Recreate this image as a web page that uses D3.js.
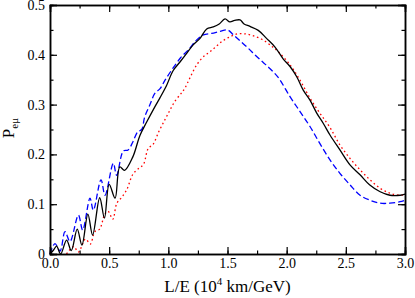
<!DOCTYPE html>
<html>
<head>
<meta charset="utf-8">
<script src="https://cdn.jsdelivr.net/npm/d3@7"></script>
<style>
  body { margin: 0; background: #fff; }
  text { font-family: "Liberation Serif", "DejaVu Serif", serif; }
</style>
</head>
<body>
<svg class="chart" width="415" height="298"></svg>
<script>
// set the dimensions and margins of the graph
var width = 415,
    height = 298,
    margin = {top: 5, right: 10, bottom: 44, left: 50}

// tick values
const xTicks = [0, 0.5, 1.0, 1.5, 2.0, 2.5, 3.0]
const yTicks = [0, 0.1, 0.2, 0.3, 0.4, 0.5]

// black solid curve
const blackX = [0.0, 0.03, 0.056, 0.09, 0.14, 0.18, 0.23, 0.27, 0.32, 0.36, 0.42, 0.46, 0.50, 0.55, 0.59, 0.63, 0.70, 0.76, 0.817, 0.887, 0.93, 0.986, 1.04, 1.10, 1.155, 1.21, 1.268, 1.324, 1.38, 1.43, 1.479, 1.52, 1.56, 1.606, 1.64, 1.69, 1.76, 1.83, 1.90, 1.97, 2.03, 2.085, 2.14, 2.197, 2.254, 2.31, 2.366, 2.45, 2.535, 2.62, 2.70, 2.79, 2.873, 2.96, 3.0]
const blackY = [0.0, 0.008, 0.016, 0.0, 0.028, 0.007, 0.05, 0.018, 0.08, 0.038, 0.113, 0.072, 0.14, 0.112, 0.175, 0.168, 0.195, 0.238, 0.265, 0.296, 0.314, 0.339, 0.368, 0.386, 0.403, 0.42, 0.433, 0.452, 0.456, 0.462, 0.472, 0.466, 0.469, 0.47, 0.462, 0.457, 0.449, 0.433, 0.416, 0.392, 0.376, 0.356, 0.329, 0.309, 0.283, 0.262, 0.239, 0.209, 0.179, 0.159, 0.139, 0.125, 0.118, 0.118, 0.12]

// blue dashed curve
const blueX = [0.0, 0.042, 0.085, 0.127, 0.169, 0.24, 0.276, 0.338, 0.366, 0.431, 0.465, 0.535, 0.563, 0.62, 0.66, 0.70, 0.74, 0.775, 0.80, 0.845, 0.887, 0.93, 0.972, 1.03, 1.10, 1.169, 1.24, 1.296, 1.366, 1.437, 1.50, 1.55, 1.606, 1.676, 1.74, 1.80, 1.86, 1.93, 2.028, 2.113, 2.197, 2.28, 2.366, 2.45, 2.535, 2.62, 2.704, 2.789, 2.873, 2.958, 3.0]
const blueY = [0.0, 0.021, 0.006, 0.045, 0.025, 0.078, 0.048, 0.112, 0.088, 0.149, 0.118, 0.182, 0.158, 0.207, 0.209, 0.225, 0.245, 0.25, 0.275, 0.30, 0.323, 0.332, 0.349, 0.37, 0.393, 0.41, 0.43, 0.44, 0.443, 0.447, 0.45, 0.44, 0.428, 0.413, 0.398, 0.385, 0.372, 0.354, 0.316, 0.286, 0.256, 0.222, 0.189, 0.162, 0.139, 0.118, 0.108, 0.102, 0.102, 0.105, 0.108]

// red dotted curve
const redX = [0.14, 0.2, 0.24, 0.3, 0.34, 0.38, 0.42, 0.46, 0.49, 0.53, 0.565, 0.61, 0.65, 0.70, 0.75, 0.79, 0.83, 0.87, 0.92, 0.972, 1.014, 1.056, 1.11, 1.14, 1.183, 1.24, 1.30, 1.352, 1.41, 1.46, 1.52, 1.58, 1.65, 1.72, 1.80, 1.88, 1.93, 2.028, 2.113, 2.197, 2.28, 2.366, 2.45, 2.535, 2.62, 2.704, 2.789, 2.873, 2.958, 3.0]
const redY = [0.0, 0.015, 0.004, 0.03, 0.02, 0.045, 0.05, 0.078, 0.086, 0.07, 0.102, 0.115, 0.13, 0.16, 0.172, 0.18, 0.212, 0.22, 0.246, 0.27, 0.289, 0.307, 0.323, 0.333, 0.354, 0.38, 0.397, 0.406, 0.418, 0.428, 0.436, 0.442, 0.442, 0.438, 0.43, 0.416, 0.406, 0.38, 0.349, 0.313, 0.283, 0.254, 0.219, 0.192, 0.169, 0.149, 0.132, 0.122, 0.118, 0.12]

const svg = d3.select(".chart")

const x = d3.scaleLinear().domain([0, 3]).range([margin.left, width - margin.right])
const y = d3.scaleLinear().domain([0, 0.5]).range([height - margin.bottom, margin.top])

const line = d3.line()
  .x(d => x(d[0]))
  .y(d => Math.min(y(0), y(d[1])))
  .curve(d3.curveCatmullRom.alpha(0.5))

function drawCurve(xs, ys, color, dash){
  svg.append("path")
    .datum(d3.zip(xs, ys))
    .attr("d", line)
    .attr("fill", "none")
    .attr("stroke", color)
    .attr("stroke-width", 1.3)
    .attr("stroke-dasharray", dash)
}

drawCurve(redX, redY, "#ff0000", "1.6,2.8")
drawCurve(blueX, blueY, "#0000ff", "6,3")
drawCurve(blackX, blackY, "#000000", null)

// axes, ticks point inward on all four sides
var xMinor = d3.range(0, 3.01, 0.25)
var yMinor = d3.range(0, 0.501, 0.05)

svg.append("g")
  .attr("transform", "translate(0," + y(0) + ")")
  .call(d3.axisBottom(x).tickValues(xMinor).tickSize(-3.5).tickFormat(""))
svg.append("g")
  .attr("transform", "translate(0," + y(0) + ")")
  .call(d3.axisBottom(x).tickValues(xTicks).tickSize(-7).tickPadding(4).tickFormat(d3.format(".1f")))
svg.append("g")
  .attr("transform", "translate(0," + y(0.5) + ")")
  .call(d3.axisTop(x).tickValues(xMinor).tickSize(-3.5).tickFormat(""))
svg.append("g")
  .attr("transform", "translate(0," + y(0.5) + ")")
  .call(d3.axisTop(x).tickValues(xTicks).tickSize(-7).tickFormat(""))

svg.append("g")
  .attr("transform", "translate(" + x(0) + ",0)")
  .call(d3.axisLeft(y).tickValues(yMinor).tickSize(-3.5).tickFormat(""))
svg.append("g")
  .attr("transform", "translate(" + x(0) + ",0)")
  .call(d3.axisLeft(y).tickValues(yTicks).tickSize(-7).tickPadding(5).tickFormat(d => d === 0 ? "0" : d3.format(".1f")(d)))
svg.append("g")
  .attr("transform", "translate(" + x(3) + ",0)")
  .call(d3.axisRight(y).tickValues(yMinor).tickSize(-3.5).tickFormat(""))
svg.append("g")
  .attr("transform", "translate(" + x(3) + ",0)")
  .call(d3.axisRight(y).tickValues(yTicks).tickSize(-7).tickFormat(""))

svg.selectAll(".domain").attr("stroke-width", 1.5)
svg.selectAll(".tick line").attr("stroke-width", 1.2)
svg.selectAll(".tick text")
  .attr("font-family", "Liberation Serif")
  .attr("font-size", 14)
  .attr("fill", "#000")

// axis labels
var xl = svg.append("text")
  .attr("x", (x(0) + x(3)) / 2)
  .attr("y", 292)
  .attr("text-anchor", "middle")
  .attr("font-size", 17)
xl.append("tspan").text("L/E (10")
xl.append("tspan").attr("dy", -7).attr("font-size", 11).text("4")
xl.append("tspan").attr("dy", 7).text(" km/GeV)")

var yl = svg.append("text")
  .attr("transform", "translate(14,128) rotate(-90)")
  .attr("text-anchor", "middle")
  .attr("font-size", 17)
yl.append("tspan").text("P")
yl.append("tspan").attr("dy", 4).attr("font-size", 11).text("eμ")
</script>
</body>
</html>
